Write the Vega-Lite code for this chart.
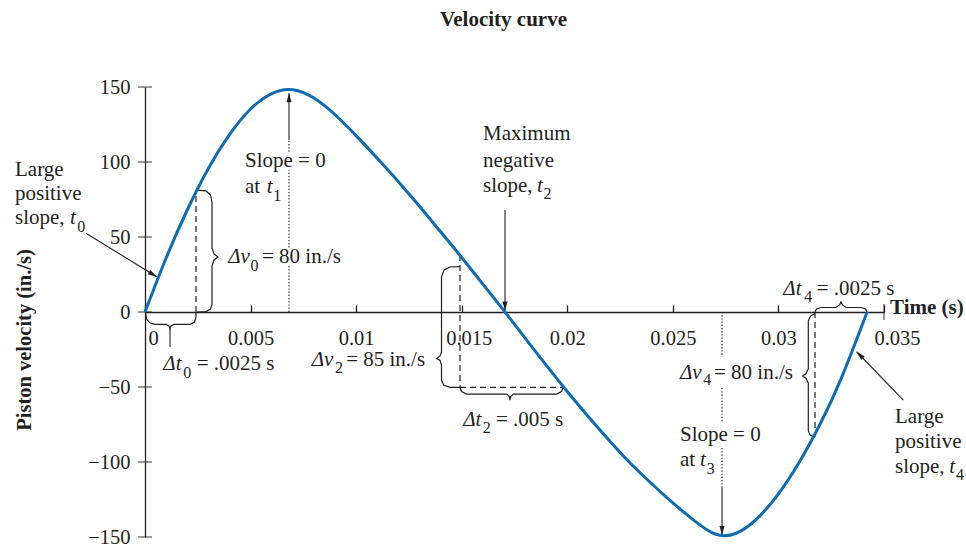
{
  "$schema": "https://vega.github.io/schema/vega-lite/v6.json",
  "width": 739,
  "height": 450,
  "autosize": "none",
  "padding": {"left": 145, "top": 87, "right": 82, "bottom": 11},
  "background": "white",
  "title": {"text": "Velocity curve", "font": "Liberation Serif", "fontSize": 21, "fontWeight": "bold", "color": "#231f20", "frame": "group", "anchor": "middle", "dx": -11, "baseline": "alphabetic", "offset": 30},
  "config": {"view": {"stroke": null}, "axis": {"grid": false}},
  "datasets": {
    "curve": [
      {"t": 0, "v": 0}, {"t": 0.001, "v": 36}, {"t": 0.002, "v": 68}, {"t": 0.003, "v": 95.7},
      {"t": 0.004, "v": 118.2}, {"t": 0.005, "v": 135.3}, {"t": 0.006, "v": 145.6}, {"t": 0.007, "v": 148.2},
      {"t": 0.008, "v": 142.6}, {"t": 0.009, "v": 131.5}, {"t": 0.01, "v": 117.6}, {"t": 0.011, "v": 102.5},
      {"t": 0.012, "v": 86.9}, {"t": 0.013, "v": 70.5}, {"t": 0.014, "v": 53.5}, {"t": 0.015, "v": 36.3},
      {"t": 0.016, "v": 18.6}, {"t": 0.017, "v": 0.9}, {"t": 0.018, "v": -17.4}, {"t": 0.019, "v": -35.4},
      {"t": 0.02, "v": -53}, {"t": 0.021, "v": -69.8}, {"t": 0.022, "v": -85.8}, {"t": 0.023, "v": -101},
      {"t": 0.024, "v": -114.5}, {"t": 0.025, "v": -127.3}, {"t": 0.026, "v": -138.9}, {"t": 0.027, "v": -148},
      {"t": 0.028, "v": -147.5}, {"t": 0.029, "v": -137.6}, {"t": 0.03, "v": -121.2}, {"t": 0.031, "v": -99.8},
      {"t": 0.032, "v": -74}, {"t": 0.033, "v": -43.4}, {"t": 0.0342, "v": 0}
    ],
    "yticks": [{"t": 0, "v": -150}, {"t": 0, "v": -100}, {"t": 0, "v": -50}, {"t": 0, "v": 0}, {"t": 0, "v": 50}, {"t": 0, "v": 100}, {"t": 0, "v": 150}],
    "xend": [{"t": 0.035, "v": 0}],
    "solid": [
      {"t": -0.002794, "v": 52.5, "t2": 0.000554, "v2": 23.5},
      {"t": 0.00682, "v": 114.7, "t2": 0.00682, "v2": 145.8},
      {"t": 0.01705, "v": 68, "t2": 0.01705, "v2": 1},
      {"t": 0.027328, "v": -116.7, "t2": 0.027328, "v2": -148.7},
      {"t": 0.035914, "v": -58.7, "t2": 0.033707, "v2": -26.5},
      {"t": 0.001184, "v": -11.3, "t2": 0.001184, "v2": -23.3}
    ],
    "dashed": [
      {"t": 0.002415, "v": 0, "t2": 0.002415, "v2": 80},
      {"t": 0.014919, "v": 38, "t2": 0.014919, "v2": -50.2},
      {"t": 0.014919, "v": -50.2, "t2": 0.019797, "v2": -50.2},
      {"t": 0.031732, "v": 0, "t2": 0.031732, "v2": -83.1}
    ],
    "dotted": [
      {"t": 0.00682, "v": 0, "t2": 0.00682, "v2": 31},
      {"t": 0.00682, "v": 43, "t2": 0.00682, "v2": 94.7},
      {"t": 0.00682, "v": 106.9, "t2": 0.00682, "v2": 114.7},
      {"t": 0.027328, "v": 0, "t2": 0.027328, "v2": -30},
      {"t": 0.027328, "v": -50.7, "t2": 0.027328, "v2": -74},
      {"t": 0.027328, "v": -90.7, "t2": 0.027328, "v2": -116.7}
    ],
    "headsUp": [{"t": 0.00682, "v": 145.8}],
    "headsDown": [{"t": 0.01705, "v": 1}, {"t": 0.027328, "v": -148.7}],
    "headDR": [{"t": 0.000554, "v": 23.5}],
    "headUL": [{"t": 0.033707, "v": -26.5}],
    "braces": [
      {"id": "dv0", "i": 0, "t": 0.002463, "v": 81.3}, {"id": "dv0", "i": 1, "t": 0.002889, "v": 80.7},
      {"id": "dv0", "i": 2, "t": 0.003102, "v": 78}, {"id": "dv0", "i": 3, "t": 0.003173, "v": 73.3},
      {"id": "dv0", "i": 4, "t": 0.003173, "v": 42.7}, {"id": "dv0", "i": 5, "t": 0.003268, "v": 38.7},
      {"id": "dv0", "i": 6, "t": 0.003457, "v": 36.7}, {"id": "dv0", "i": 7, "t": 0.003268, "v": 34.7},
      {"id": "dv0", "i": 8, "t": 0.003173, "v": 30.7}, {"id": "dv0", "i": 9, "t": 0.003173, "v": 5.3},
      {"id": "dv0", "i": 10, "t": 0.003102, "v": 1.9}, {"id": "dv0", "i": 11, "t": 0.002889, "v": 0.3},
      {"id": "dv0", "i": 12, "t": 0.002463, "v": 0},

      {"id": "dt0", "i": 0, "t": 0.000024, "v": 0}, {"id": "dt0", "i": 1, "t": 0.000071, "v": -4.7},
      {"id": "dt0", "i": 2, "t": 0.000237, "v": -7.3}, {"id": "dt0", "i": 3, "t": 0.000474, "v": -8.2},
      {"id": "dt0", "i": 4, "t": 0.000995, "v": -8.2}, {"id": "dt0", "i": 5, "t": 0.001137, "v": -9.3},
      {"id": "dt0", "i": 6, "t": 0.001184, "v": -11.3}, {"id": "dt0", "i": 7, "t": 0.001231, "v": -9.3},
      {"id": "dt0", "i": 8, "t": 0.001373, "v": -8.2}, {"id": "dt0", "i": 9, "t": 0.002131, "v": -8.2},
      {"id": "dt0", "i": 10, "t": 0.002344, "v": -6.7}, {"id": "dt0", "i": 11, "t": 0.002415, "v": -3.3},
      {"id": "dt0", "i": 12, "t": 0.002415, "v": 0},

      {"id": "dv2", "i": 0, "t": 0.014919, "v": 30.3}, {"id": "dv2", "i": 1, "t": 0.014445, "v": 30},
      {"id": "dv2", "i": 2, "t": 0.014161, "v": 28}, {"id": "dv2", "i": 3, "t": 0.014043, "v": 23.3},
      {"id": "dv2", "i": 4, "t": 0.014043, "v": -26.7}, {"id": "dv2", "i": 5, "t": 0.013972, "v": -29.3},
      {"id": "dv2", "i": 6, "t": 0.013816, "v": -30.9}, {"id": "dv2", "i": 7, "t": 0.013972, "v": -32.3},
      {"id": "dv2", "i": 8, "t": 0.014043, "v": -35.3}, {"id": "dv2", "i": 9, "t": 0.014043, "v": -45.3},
      {"id": "dv2", "i": 10, "t": 0.014138, "v": -48.7}, {"id": "dv2", "i": 11, "t": 0.014445, "v": -50.2},
      {"id": "dv2", "i": 12, "t": 0.014919, "v": -50.2},

      {"id": "dt2", "i": 0, "t": 0.014919, "v": -50.2}, {"id": "dt2", "i": 1, "t": 0.01499, "v": -53},
      {"id": "dt2", "i": 2, "t": 0.015236, "v": -54.7}, {"id": "dt2", "i": 3, "t": 0.017131, "v": -54.7},
      {"id": "dt2", "i": 4, "t": 0.017254, "v": -56.3}, {"id": "dt2", "i": 5, "t": 0.017287, "v": -58.7},
      {"id": "dt2", "i": 6, "t": 0.01732, "v": -56.3}, {"id": "dt2", "i": 7, "t": 0.017443, "v": -54.7},
      {"id": "dt2", "i": 8, "t": 0.019499, "v": -54.7}, {"id": "dt2", "i": 9, "t": 0.019726, "v": -53},
      {"id": "dt2", "i": 10, "t": 0.019811, "v": -50.2},

      {"id": "dv4", "i": 0, "t": 0.031732, "v": -1}, {"id": "dv4", "i": 1, "t": 0.031519, "v": -2.7},
      {"id": "dv4", "i": 2, "t": 0.031415, "v": -6}, {"id": "dv4", "i": 3, "t": 0.031415, "v": -38},
      {"id": "dv4", "i": 4, "t": 0.031306, "v": -41}, {"id": "dv4", "i": 5, "t": 0.03115, "v": -42.7},
      {"id": "dv4", "i": 6, "t": 0.031306, "v": -44.3}, {"id": "dv4", "i": 7, "t": 0.031415, "v": -47.3},
      {"id": "dv4", "i": 8, "t": 0.031415, "v": -79.3}, {"id": "dv4", "i": 9, "t": 0.031519, "v": -82.3},
      {"id": "dv4", "i": 10, "t": 0.031732, "v": -83.1},

      {"id": "dt4", "i": 0, "t": 0.031732, "v": 0}, {"id": "dt4", "i": 1, "t": 0.031803, "v": 2},
      {"id": "dt4", "i": 2, "t": 0.032017, "v": 3}, {"id": "dt4", "i": 3, "t": 0.032727, "v": 3},
      {"id": "dt4", "i": 4, "t": 0.032893, "v": 4.7}, {"id": "dt4", "i": 5, "t": 0.032964, "v": 6.7},
      {"id": "dt4", "i": 6, "t": 0.033035, "v": 4.7}, {"id": "dt4", "i": 7, "t": 0.033201, "v": 3},
      {"id": "dt4", "i": 8, "t": 0.033911, "v": 3}, {"id": "dt4", "i": 9, "t": 0.034124, "v": 2},
      {"id": "dt4", "i": 10, "t": 0.034195, "v": 0}
    ],
    "txt": [
      {"t": -0.006157, "v": 90.7, "s": "Large"},
      {"t": -0.006157, "v": 74.7, "s": "positive"},
      {"t": -0.006157, "v": 58.7, "s": "slope,"},
      {"t": 0.004736, "v": 96.9, "s": "Slope = 0"},
      {"t": 0.004736, "v": 79.5, "s": "at"},
      {"t": 0.005541, "v": 32.5, "s": "= 80 in./s"},
      {"t": 0.002449, "v": -38.5, "s": "= .0025 s"},
      {"t": 0.009526, "v": -35.7, "s": "= 85 in./s"},
      {"t": 0.016624, "v": -76, "s": "= .005 s"},
      {"t": 0.016008, "v": 114.7, "s": "Maximum"},
      {"t": 0.016008, "v": 96.9, "s": "negative"},
      {"t": 0.016008, "v": 80.2, "s": "slope,"},
      {"t": 0.025338, "v": -86, "s": "Slope = 0"},
      {"t": 0.025338, "v": -102.7, "s": "at"},
      {"t": 0.026949, "v": -44.9, "s": "= 80 in./s"},
      {"t": 0.031813, "v": 11.3, "s": "= .0025 s"},
      {"t": 0.035521, "v": -73.8, "s": "Large"},
      {"t": 0.035521, "v": -90.9, "s": "positive"},
      {"t": 0.035521, "v": -107.6, "s": "slope,"}
    ],
    "txtit": [
      {"t": -0.003552, "v": 58.7, "s": "t"},
      {"t": 0.005764, "v": 79.5, "s": "t"},
      {"t": 0.003945, "v": 32.5, "s": "Δv"},
      {"t": 0.000867, "v": -38.5, "s": "Δt"},
      {"t": 0.007895, "v": -35.7, "s": "Δv"},
      {"t": 0.015075, "v": -76, "s": "Δt"},
      {"t": 0.018566, "v": 80.2, "s": "t"},
      {"t": 0.026286, "v": -102.7, "s": "t"},
      {"t": 0.025338, "v": -44.9, "s": "Δv"},
      {"t": 0.030231, "v": 11.3, "s": "Δt"},
      {"t": 0.038093, "v": -107.6, "s": "t"}
    ],
    "txtsub": [
      {"t": -0.003206, "v": 53.5, "s": "0"},
      {"t": 0.006076, "v": 74.3, "s": "1"},
      {"t": 0.004998, "v": 27.5, "s": "0"},
      {"t": 0.001814, "v": -43.7, "s": "0"},
      {"t": 0.008999, "v": -40.8, "s": "2"},
      {"t": 0.015998, "v": -80.7, "s": "2"},
      {"t": 0.018878, "v": 75.1, "s": "2"},
      {"t": 0.026603, "v": -108.2, "s": "3"},
      {"t": 0.026442, "v": -48.7, "s": "4"},
      {"t": 0.031226, "v": 6.5, "s": "4"},
      {"t": 0.038405, "v": -112, "s": "4"}
    ],
    "txtbold": [{"t": 0.035285, "v": -1.3, "s": "Time (s)"}]
  },
  "encoding": {
    "x": {
      "field": "t", "type": "quantitative",
      "scale": {"domain": [0, 0.035], "nice": false, "zero": false},
      "axis": {
        "orient": "bottom", "offset": -225, "title": null,
        "values": [0, 0.005, 0.01, 0.015, 0.02, 0.025, 0.03, 0.035], "format": "~g",
        "tickSize": -7, "tickWidth": 1.3, "tickColor": "#231f20",
        "domainColor": "#231f20", "domainWidth": 1.3,
        "labelPadding": 23, "labelFont": "Liberation Serif", "labelFontSize": 20.5, "labelColor": "#231f20",
        "labelFlush": false, "labelOverlap": false,
        "labelOffset": {"condition": [{"test": "datum.value == 0", "value": 8}, {"test": "datum.value == 0.015", "value": 7}, {"test": "datum.value == 0.035", "value": 13}], "value": 0}
      }
    },
    "y": {
      "field": "v", "type": "quantitative",
      "scale": {"domain": [-150, 150], "nice": false, "zero": false},
      "axis": {
        "orient": "left", "values": [-150, -100, -50, 0, 50, 100, 150], "ticks": false,
        "domainColor": "#231f20", "domainWidth": 1.3,
        "labelPadding": 15, "labelFont": "Liberation Serif", "labelFontSize": 20.5, "labelColor": "#231f20",
        "labelOverlap": false,
        "title": "Piston velocity (in./s)", "titleFont": "Liberation Serif", "titleFontSize": 20.5,
        "titleFontWeight": "bold", "titleColor": "#231f20", "titlePadding": 53, "titleY": 252.5
      }
    }
  },
  "layer": [
    {"data": {"name": "yticks"}, "mark": {"type": "tick", "orient": "horizontal", "size": 14, "thickness": 1.3, "color": "#231f20"}},
    {"data": {"name": "xend"}, "mark": {"type": "tick", "orient": "vertical", "size": 16, "thickness": 1.3, "color": "#231f20"}},
    {"data": {"name": "dotted"}, "mark": {"type": "rule", "color": "#231f20", "strokeWidth": 1.2, "strokeDash": [1.2, 2]}, "encoding": {"x2": {"field": "t2"}, "y2": {"field": "v2"}}},
    {"data": {"name": "dashed"}, "mark": {"type": "rule", "color": "#231f20", "strokeWidth": 1.2, "strokeDash": [6, 4]}, "encoding": {"x2": {"field": "t2"}, "y2": {"field": "v2"}}},
    {"data": {"name": "solid"}, "mark": {"type": "rule", "color": "#231f20", "strokeWidth": 1.1}, "encoding": {"x2": {"field": "t2"}, "y2": {"field": "v2"}}},
    {"data": {"name": "braces"}, "mark": {"type": "line", "color": "#231f20", "strokeWidth": 1.2, "interpolate": "linear"}, "encoding": {"detail": {"field": "id", "type": "nominal"}, "order": {"field": "i", "type": "quantitative"}}},
    {"data": {"name": "curve"}, "mark": {"type": "line", "color": "#0f6cb0", "strokeWidth": 3, "interpolate": "natural"}},
    {"data": {"name": "headsUp"}, "mark": {"type": "point", "shape": "M0,0L-0.28,1L0.28,1Z", "filled": true, "size": 324, "color": "#231f20", "opacity": 1, "angle": 0}},
    {"data": {"name": "headsDown"}, "mark": {"type": "point", "shape": "M0,0L-0.28,1L0.28,1Z", "filled": true, "size": 324, "color": "#231f20", "opacity": 1, "angle": 180}},
    {"data": {"name": "headDR"}, "mark": {"type": "point", "shape": "M0,0L-0.28,1L0.28,1Z", "filled": true, "size": 324, "color": "#231f20", "opacity": 1, "angle": 121.5}},
    {"data": {"name": "headUL"}, "mark": {"type": "point", "shape": "M0,0L-0.28,1L0.28,1Z", "filled": true, "size": 324, "color": "#231f20", "opacity": 1, "angle": 316}},
    {"data": {"name": "txt"}, "mark": {"type": "text", "font": "Liberation Serif", "fontSize": 21, "align": "left", "baseline": "alphabetic", "color": "#231f20"}, "encoding": {"text": {"field": "s"}}},
    {"data": {"name": "txtit"}, "mark": {"type": "text", "font": "Liberation Serif", "fontSize": 21, "fontStyle": "italic", "align": "left", "baseline": "alphabetic", "color": "#231f20"}, "encoding": {"text": {"field": "s"}}},
    {"data": {"name": "txtsub"}, "mark": {"type": "text", "font": "Liberation Serif", "fontSize": 16, "align": "left", "baseline": "alphabetic", "color": "#231f20"}, "encoding": {"text": {"field": "s"}}},
    {"data": {"name": "txtbold"}, "mark": {"type": "text", "font": "Liberation Serif", "fontSize": 21, "fontWeight": "bold", "align": "left", "baseline": "alphabetic", "color": "#231f20"}, "encoding": {"text": {"field": "s"}}}
  ]
}
